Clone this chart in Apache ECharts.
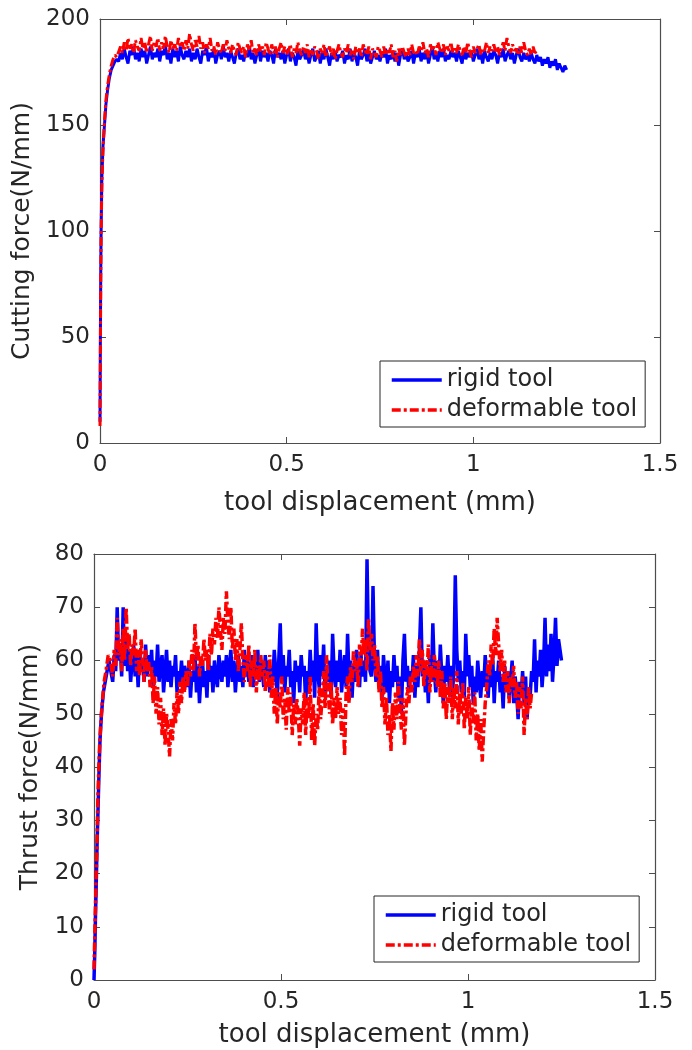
<!DOCTYPE html>
<html>
<head>
<meta charset="utf-8">
<script src="https://cdn.jsdelivr.net/npm/echarts@6/dist/echarts.min.js"></script>
<style>
  html, body { margin: 0; padding: 0; background: #fff; }
  #main { width: 692px; height: 1050px; }
</style>
</head>
<body>
<div id="main"></div>
<script>
// tick values
var xTicks = [0, 0.5, 1, 1.5];
var cutTicks = [0, 50, 100, 150, 200];
var thrustTicks = [0, 10, 20, 30, 40, 50, 60, 70, 80];
var seriesNames = ['rigid tool', 'deformable tool'];

// ---- cutting force: initial ramp [displacement, force]
var cutRigidRamp = [[0, 10], [0.001, 50], [0.002, 80], [0.003, 100], [0.005, 125], [0.008, 140], [0.012, 150],
  [0.016, 160], [0.02, 166], [0.025, 172], [0.03, 176], [0.035, 178], [0.04, 180], [0.045, 181]];
var cutDeformRamp = [[0, 8], [0.001, 40], [0.002, 75], [0.003, 98], [0.005, 122], [0.008, 138], [0.012, 152],
  [0.016, 162], [0.02, 168], [0.025, 174], [0.03, 178], [0.035, 181], [0.04, 183], [0.045, 182]];
// plateau, one value every 0.005 mm from 0.05 mm
var cutStart = 0.05, cutStep = 0.005;
var cutRigid = [
  180,184,181,186,182,179,185,183,187,181,184,180,186,182,185,179,183,187,181,184,
  182,186,180,185,183,188,181,184,179,186,182,185,180,187,183,181,185,182,186,180,
  184,181,186,182,179,185,183,187,180,184,182,186,179,183,185,181,187,182,184,180,
  185,182,179,184,186,181,183,180,185,182,187,181,184,179,183,186,180,185,182,184,
  180,185,183,179,186,182,184,181,185,179,183,186,180,184,182,178,185,181,183,186,
  181,184,179,183,186,180,182,185,179,184,181,186,182,178,184,181,185,180,183,182,
  185,179,183,181,186,180,184,182,178,185,181,183,186,180,184,179,182,185,181,183,
  180,184,182,186,179,183,181,185,180,184,178,183,186,181,184,180,182,185,179,184,
  182,186,180,184,181,185,179,183,187,181,184,180,185,182,186,180,183,181,185,182,
  184,180,185,182,179,186,181,184,182,185,180,183,186,181,184,179,185,182,180,184,
  181,185,183,179,184,182,186,180,183,185,181,184,179,183,186,182,180,184,181,183,
  180,184,181,179,183,180,182,178,181,179,182,177,180,178,181,176,179,177,175,178,
  176
];
var cutDeform = [
  182,187,184,189,185,191,186,188,184,190,187,185,191,186,189,184,188,192,185,189,
  187,191,185,189,186,192,187,184,190,186,188,185,191,187,189,185,190,186,193,188,
  185,190,187,192,186,189,184,188,186,191,185,187,183,189,186,184,188,185,190,186,
  184,188,185,183,189,186,184,187,182,188,185,190,184,186,183,188,185,187,183,189,
  186,183,188,184,187,182,186,189,184,187,183,185,188,182,186,184,189,185,183,187,
  184,188,182,186,183,187,185,181,186,184,188,182,185,187,183,186,181,185,188,184,
  182,186,184,188,183,185,181,187,184,186,182,188,185,183,187,181,186,184,182,187,
  185,182,187,183,186,184,188,182,185,180,186,183,187,184,182,186,183,188,184,185,
  183,187,185,189,184,186,182,188,185,187,183,189,186,184,188,183,187,185,189,184,
  186,184,188,185,183,187,184,189,185,182,187,184,186,188,183,186,185,189,184,187,
  185,188,184,187,183,186,189,185,191,187,184,188,185,186,183,187,184,189,185,183,
  186,183,187,184,185
];

// ---- thrust force: initial ramp
var thrRigidRamp = [[0, 0], [0.002, 5], [0.004, 12], [0.006, 18], [0.008, 25], [0.01, 30], [0.013, 38],
  [0.016, 45], [0.02, 50], [0.025, 54], [0.03, 56], [0.035, 58], [0.04, 60], [0.045, 58]];
var thrDeformRamp = [[0, 2], [0.002, 8], [0.004, 14], [0.006, 20], [0.008, 25], [0.01, 33], [0.012, 38],
  [0.015, 44], [0.018, 48], [0.022, 52], [0.027, 56], [0.032, 58], [0.038, 61], [0.044, 60]];
// plateau, one value every 0.004 mm from 0.05 mm
var thrStart = 0.05, thrStep = 0.004;
var thrRigid = [
  56,61,58,70,60,63,57,70,59,64,58,62,56,60,63,57,61,55,62,58,60,56,63,57,61,
  58,62,55,60,57,63,56,59,61,54,58,62,56,60,55,59,57,61,54,58,56,60,55,59,57,
  55,60,53,58,56,61,54,59,52,57,60,55,58,53,61,56,59,54,60,57,55,61,58,56,60,
  57,61,55,59,62,56,60,54,58,61,56,59,55,62,57,60,56,58,61,55,59,57,62,56,60,
  58,55,61,57,60,54,59,56,62,58,53,60,67,56,61,54,59,57,62,55,58,52,60,56,59,
  54,61,57,59,52,58,55,62,56,60,53,67,58,55,61,57,63,54,59,56,60,53,65,58,55,
  60,56,62,54,58,61,55,65,57,60,53,59,56,62,58,55,61,57,60,56,79,62,58,57,74,
  60,56,62,55,59,53,61,57,54,60,52,58,55,61,56,59,53,57,50,60,65,56,59,54,58,
  56,61,53,59,55,62,70,57,60,54,58,52,61,56,67,58,54,60,55,63,57,52,59,56,61,
  55,59,53,58,76,62,56,60,54,58,53,65,57,61,55,59,52,57,54,60,56,53,58,55,61,
  57,53,59,55,61,52,58,56,60,54,57,51,59,55,58,53,56,60,52,57,54,49,56,53,58,
  52,57,49,55,53,58,56,64,54,60,57,62,55,59,68,57,63,58,65,56,61,68,59,64,62,
  60
];
var thrDeform = [
  57,62,59,68,61,64,58,66,60,70,62,65,59,63,61,66,58,62,57,64,60,56,62,58,60,
  55,59,52,57,50,55,48,53,46,51,44,50,47,42,49,45,52,48,54,50,56,52,57,54,58,
  55,60,57,62,58,67,60,63,57,61,59,64,60,62,58,65,61,66,63,68,64,70,66,62,68,
  65,73,67,64,70,62,66,60,64,58,62,67,60,56,61,58,63,55,60,57,62,54,59,56,61,
  57,60,54,58,55,61,53,57,50,55,48,54,51,57,49,53,47,55,50,54,46,52,48,53,50,
  44,51,48,54,46,53,49,57,45,52,44,50,47,55,49,53,58,51,61,54,50,56,48,53,49,
  55,50,53,46,51,42,54,57,52,59,56,62,58,60,55,63,59,66,61,64,58,68,62,65,60,
  63,57,61,54,58,51,55,48,53,46,50,43,52,47,54,49,56,51,47,53,44,50,55,52,57,
  54,59,56,61,57,64,58,62,55,60,57,63,54,59,56,61,58,55,60,53,58,51,56,49,55,
  52,57,49,55,51,58,48,54,50,56,47,53,49,55,46,52,48,54,45,50,43,49,41,47,52,
  55,60,57,63,59,66,61,68,63,58,62,56,60,54,58,52,57,55,59,53,56,50,55,51,57,
  46,53,49,55,51,54
];

// ramp pairs followed by the sampled plateau
function buildPairs(ramp, start, step, values) {
  var out = ramp.slice();
  for (var i = 0; i < values.length; i++) {
    out.push([+(start + i * step).toFixed(4), values[i]]);
  }
  return out;
}

var txt = '#262626';
var font = 'DejaVu Sans';
var box = '#4d4d4d';

function xAx(grid, top, gap) {
  return {
    type: 'value', gridIndex: grid, position: top ? 'top' : 'bottom',
    min: xTicks[0], max: xTicks[xTicks.length - 1], interval: 0.5,
    name: top ? '' : 'tool displacement (mm)',
    nameLocation: 'middle', nameGap: gap,
    nameTextStyle: { fontFamily: font, fontSize: 26, color: txt },
    axisLine: { show: true, onZero: false, lineStyle: { color: box, width: 1.2 } },
    axisTick: { show: true, inside: true, length: 6, lineStyle: { color: box } },
    axisLabel: { show: !top, fontFamily: font, fontSize: 23, color: txt, margin: 11 },
    splitLine: { show: false }
  };
}
function yAx(grid, right, ticks, name, gap) {
  return {
    type: 'value', gridIndex: grid, position: right ? 'right' : 'left',
    min: ticks[0], max: ticks[ticks.length - 1], interval: ticks[1] - ticks[0],
    name: right ? '' : name,
    nameLocation: 'middle', nameGap: gap,
    nameTextStyle: { fontFamily: font, fontSize: 25, color: txt },
    axisLine: { show: true, onZero: false, lineStyle: { color: box, width: 1.2 } },
    axisTick: { show: true, inside: true, length: 6, lineStyle: { color: box } },
    axisLabel: { show: !right, fontFamily: font, fontSize: 23, color: txt, margin: 10 },
    splitLine: { show: false }
  };
}
function lineSeries(name, xi, yi, data, dashed, width) {
  return {
    name: name, type: 'line', xAxisIndex: xi, yAxisIndex: yi,
    data: data, showSymbol: false, symbol: 'none', smooth: false,
    lineStyle: { color: dashed ? '#ff0000' : '#0000ff', width: width, type: dashed ? [9, 3, 3, 3] : 'solid' },
    itemStyle: { color: dashed ? '#ff0000' : '#0000ff' },
    z: dashed ? 3 : 2
  };
}
function legendAt(left, top) {
  return {
    orient: 'vertical', left: left, top: top, data: seriesNames,
    itemWidth: 50, itemHeight: 14, itemGap: 4,
    padding: [6, 8, 4, 10],
    borderColor: txt, borderWidth: 1, backgroundColor: '#fff',
    itemStyle: { opacity: 0 },
    lineStyle: { width: 3.5 },
    textStyle: { fontFamily: font, fontSize: 24, lineHeight: 26, color: txt },
    selectedMode: false
  };
}

var chart = echarts.init(document.getElementById('main'));
chart.setOption({
  animation: false,
  backgroundColor: '#fff',
  grid: [
    { left: 100, top: 19, width: 560, height: 424 },
    { left: 94, top: 554, width: 561, height: 426 }
  ],
  xAxis: [xAx(0, false, 47), xAx(0, true, 0), xAx(1, false, 42), xAx(1, true, 0)],
  yAxis: [
    yAx(0, false, cutTicks, 'Cutting force(N/mm)', 57), yAx(0, true, cutTicks, '', 0),
    yAx(1, false, thrustTicks, 'Thrust force(N/mm)', 51), yAx(1, true, thrustTicks, '', 0)
  ],
  legend: [legendAt(380, 361), legendAt(374, 896)],
  series: [
    lineSeries(seriesNames[0], 0, 0, buildPairs(cutRigidRamp, cutStart, cutStep, cutRigid), false, 3),
    lineSeries(seriesNames[1], 0, 0, buildPairs(cutDeformRamp, cutStart, cutStep, cutDeform), true, 3),
    lineSeries(seriesNames[0], 2, 2, buildPairs(thrRigidRamp, thrStart, thrStep, thrRigid), false, 3.5),
    lineSeries(seriesNames[1], 2, 2, buildPairs(thrDeformRamp, thrStart, thrStep, thrDeform), true, 3.5)
  ]
});
</script>
</body>
</html>
